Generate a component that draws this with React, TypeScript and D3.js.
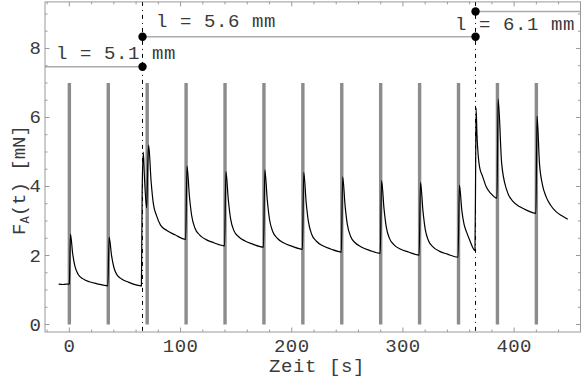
import React from "react";
import * as d3 from "d3";

// ---- data ----
const stimTimes = [0, 35, 70, 105, 140, 175, 210, 245, 280, 315, 350, 385, 420];
const stimHeight = 7;

const traceT = [
  -9.6, -6, -3, -0.3, 0, 1.0, 3, 5, 8, 12, 18, 25, 34.6,
  35.8, 38, 40, 43, 47, 53, 60, 64.8,
  65.5, 66.5, 67.5, 69.5, 70.5, 71.3, 73.5, 75.5, 78.5, 82, 88, 95, 104.6,
  105.8, 108, 110, 113, 117, 123, 130, 139.6,
  140.8, 143, 145, 148, 152, 158, 165, 174.6,
  175.8, 178, 180, 183, 187, 193, 200, 209.6,
  210.8, 213, 215, 218, 222, 228, 235, 244.6,
  245.8, 248, 250, 253, 257, 263, 270, 279.6,
  280.8, 283, 285, 288, 292, 298, 305, 314.6,
  315.8, 318, 320, 323, 327, 333, 340, 349.6,
  350.8, 353, 355, 357, 360, 364.8,
  365.4, 365.8, 366.6, 368.9, 371.8, 374.9, 379, 384.6,
  385.6, 388.8, 393.3, 399.2, 405.2, 412, 419.6,
  420.6, 422.8, 425.5, 428.8, 433, 437.7, 443, 448.2,
];
const traceF = [
  1.17, 1.16, 1.17, 1.17, 1.18, 2.62, 2.05, 1.69, 1.45, 1.33, 1.24, 1.18, 1.12,
  2.53, 1.99, 1.66, 1.43, 1.32, 1.23, 1.15, 1.12,
  3.9, 5.0, 4.3, 3.38, 4.6, 5.2, 4.16, 3.51, 3.15, 2.88, 2.72, 2.6, 2.47,
  4.59, 3.71, 3.16, 2.79, 2.6, 2.46, 2.37, 2.28,
  4.43, 3.6, 3.07, 2.72, 2.55, 2.42, 2.33, 2.24,
  4.48, 3.61, 3.05, 2.69, 2.5, 2.36, 2.27, 2.18,
  4.41, 3.53, 2.98, 2.61, 2.42, 2.28, 2.19, 2.1,
  4.28, 3.44, 2.9, 2.55, 2.37, 2.24, 2.15, 2.06,
  4.17, 3.35, 2.83, 2.49, 2.31, 2.18, 2.1, 2.01,
  4.12, 3.3, 2.77, 2.43, 2.25, 2.12, 2.04, 1.95,
  4.04, 3.3, 2.9, 2.7, 2.45, 2.14,
  4.6, 6.27, 5.5, 4.57, 4.28, 3.99, 3.8, 3.66,
  6.53, 4.67, 3.9, 3.56, 3.41, 3.3, 3.22,
  6.04, 4.67, 4.05, 3.7, 3.45, 3.27, 3.15, 3.05,
];

const lengthLabels = ["l = 5.1 mm", "l = 5.6 mm", "l = 6.1 mm"];
const lengthLevels = [7.47, 8.34, 9.07];
const changeTimes = [65.8, 365.3];

const xMajor = [0, 100, 200, 300, 400];
const yMajor = [0, 2, 4, 6, 8];

const xDomain = [-21.9, 459.7];
const yDomain = [-0.217, 9.35];

export default function App() {
  const W = 582, H = 380;
  const L = 45, R = 580.5, T = 1.9, B = 332;
  const x = d3.scaleLinear().domain(xDomain).range([L, R]);
  const y = d3.scaleLinear().domain(yDomain).range([B, T]);

  const xMinor = d3.range(-20, 460, 20).filter((v) => !xMajor.includes(v));
  const yMinor = d3.range(0, 9.5, 0.5).filter((v) => !yMajor.includes(v));

  const pts = traceT.map((t, i) => [t, traceF[i]] as [number, number]);
  const line = d3
    .line<[number, number]>()
    .x((d) => x(d[0]))
    .y((d) => y(d[1]))
    .curve(d3.curveMonotoneX);

  const font = "'Liberation Mono', 'Courier New', monospace";
  const axisCol = "#9a9a9a";
  const fs = 19;
  const txtCol = "#3a3a3a";

  // annotation segments
  const segStart = [xDomain[0], changeTimes[0], changeTimes[1]];
  const segEnd = [changeTimes[0], changeTimes[1], xDomain[1]];
  const labelX = [56, 156, 455];
  const labelY = [59, 27, 29.5];

  return (
    <svg
      width={W}
      height={H}
      style={{ position: "fixed", left: 0, top: 0, background: "#fff" }}
    >
      <rect x={0} y={0} width={W} height={H} fill="#fff" />
      {/* stimulus bars */}
      {stimTimes.map((t, i) => (
        <line
          key={"b" + i}
          x1={x(t)}
          x2={x(t)}
          y1={y(0)}
          y2={y(stimHeight)}
          stroke="#8c8c8c"
          strokeWidth={3.4}
        />
      ))}
      {/* annotation lines */}
      {lengthLevels.map((v, i) => (
        <line
          key={"h" + i}
          x1={x(segStart[i])}
          x2={x(segEnd[i])}
          y1={y(v)}
          y2={y(v)}
          stroke="#ababab"
          strokeWidth={1.6}
        />
      ))}
      {/* dashed change lines */}
      {changeTimes.map((t, i) => (
        <line
          key={"d" + i}
          x1={x(t)}
          x2={x(t)}
          y1={T}
          y2={B}
          stroke="#000"
          strokeWidth={1}
          strokeDasharray="4,4,1,4"
        />
      ))}
      {/* trace */}
      <path d={line(pts) || ""} fill="none" stroke="#000" strokeWidth={1.2} />
      {/* dots */}
      {changeTimes.map((t, i) => (
        <g key={"c" + i}>
          <circle cx={x(t)} cy={y(lengthLevels[i])} r={4.2} fill="#000" />
          <circle cx={x(t)} cy={y(lengthLevels[i + 1])} r={4.2} fill="#000" />
        </g>
      ))}
      {/* labels */}
      {lengthLabels.map((s, i) => (
        <text
          key={"l" + i}
          x={labelX[i]}
          y={labelY[i]}
          fontFamily={font}
          fontSize={fs}
          letterSpacing={0.6}
          fill={txtCol}
          style={{ whiteSpace: "pre" }}
        >
          {s}
        </text>
      ))}
      {/* frame */}
      <rect
        x={L}
        y={T}
        width={R - L}
        height={B - T}
        fill="none"
        stroke={axisCol}
        strokeWidth={1}
      />
      {/* x ticks */}
      {xMajor.map((v) => (
        <g key={"xM" + v}>
          <line x1={x(v)} x2={x(v)} y1={B} y2={B - 4.5} stroke={axisCol} />
          <line x1={x(v)} x2={x(v)} y1={T} y2={T + 4.5} stroke={axisCol} />
          <text
            x={x(v)}
            y={352}
            textAnchor="middle"
            fontFamily={font}
            fontSize={fs}
            letterSpacing={0.4}
            fill={txtCol}
          >
            {v}
          </text>
        </g>
      ))}
      {xMinor.map((v) => (
        <g key={"xm" + v}>
          <line x1={x(v)} x2={x(v)} y1={B} y2={B - 2.5} stroke={axisCol} />
          <line x1={x(v)} x2={x(v)} y1={T} y2={T + 2.5} stroke={axisCol} />
        </g>
      ))}
      {/* y ticks */}
      {yMajor.map((v) => (
        <g key={"yM" + v}>
          <line x1={L} x2={L + 4.5} y1={y(v)} y2={y(v)} stroke={axisCol} />
          <line x1={R} x2={R - 4.5} y1={y(v)} y2={y(v)} stroke={axisCol} />
          <text
            x={41}
            y={y(v) + 6}
            textAnchor="end"
            fontFamily={font}
            fontSize={fs}
            fill={txtCol}
          >
            {v}
          </text>
        </g>
      ))}
      {yMinor.map((v) => (
        <g key={"ym" + v}>
          <line x1={L} x2={L + 2.5} y1={y(v)} y2={y(v)} stroke={axisCol} />
          <line x1={R} x2={R - 2.5} y1={y(v)} y2={y(v)} stroke={axisCol} />
        </g>
      ))}
      {/* axis titles */}
      <text
        x={317}
        y={372}
        textAnchor="middle"
        fontFamily={font}
        fontSize={fs}
        letterSpacing={0.6}
        fill={txtCol}
        style={{ whiteSpace: "pre" }}
      >
        Zeit [s]
      </text>
      <text
        transform="translate(25,180) rotate(-90)"
        textAnchor="middle"
        fontFamily={font}
        fontSize={fs}
        fill={txtCol}
        style={{ whiteSpace: "pre" }}
      >
        F<tspan fontSize={12} dy={4}>A</tspan>
        <tspan dy={-4}>(t) [mN]</tspan>
      </text>
    </svg>
  );
}
